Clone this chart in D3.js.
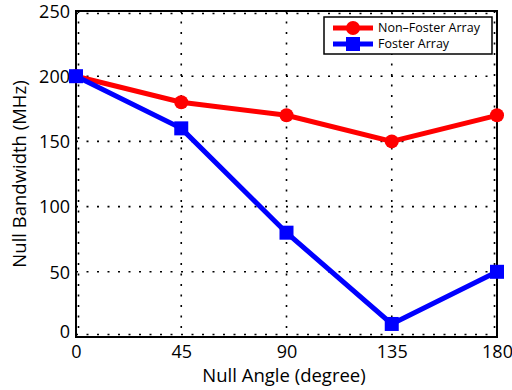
<!DOCTYPE html>
<html>
<head>
<meta charset="utf-8">
<script src="https://cdn.jsdelivr.net/npm/d3@7"></script>
<style>
  body { margin: 0; background: #fff; }
  text { font-family: "Open Sans", "DejaVu Sans", sans-serif; }
</style>
</head>
<body>
<script>
const width = 512;
const height = 390;

// data
const angles = [0, 45, 90, 135, 180];
const nonFoster = [200, 180, 170, 150, 170];
const foster = [200, 160, 80, 10, 50];
const xTicks = [0, 45, 90, 135, 180];
const yTicks = [0, 50, 100, 150, 200, 250];
const seriesNames = ["Non\u2013Foster Array", "Foster Array"];

const margin = { left: 76, right: 15, top: 11, bottom: 53 };

let svg = d3.select("body")
    .append("svg")
    .attr("width", width)
    .attr("height", height);

const x = d3.scaleLinear().domain([0, 180]).range([margin.left, width - margin.right]);
const y = d3.scaleLinear().domain([0, 250]).range([height - margin.bottom, margin.top]);

// dotted grid (edge lines nudged inward so the dots show next to the box)
const dash = "2,8.5";
svg.append("g")
    .selectAll("line")
    .data(xTicks)
    .join("line")
    .attr("x1", d => x(d) + (d === 0 ? 2.5 : d === 180 ? -2.5 : 0))
    .attr("x2", d => x(d) + (d === 0 ? 2.5 : d === 180 ? -2.5 : 0))
    .attr("y1", y(250))
    .attr("y2", y(0))
    .attr("stroke", "#000")
    .attr("stroke-width", 1.6)
    .attr("stroke-dasharray", dash);

svg.append("g")
    .selectAll("line")
    .data(yTicks)
    .join("line")
    .attr("y1", d => y(d) + (d === 0 ? -2.5 : d === 250 ? 2.5 : 0))
    .attr("y2", d => y(d) + (d === 0 ? -2.5 : d === 250 ? 2.5 : 0))
    .attr("x1", x(0))
    .attr("x2", x(180))
    .attr("stroke", "#000")
    .attr("stroke-width", 1.6)
    .attr("stroke-dasharray", dash);

// box
svg.append("rect")
    .attr("x", x(0))
    .attr("y", y(250))
    .attr("width", x(180) - x(0))
    .attr("height", y(0) - y(250))
    .attr("fill", "none")
    .attr("stroke", "#000")
    .attr("stroke-width", 2);

// axes
const xAxis = svg.append("g")
    .attr("transform", `translate(0,${y(0)})`)
    .call(d3.axisBottom(x).tickValues(xTicks).tickSize(0).tickPadding(8));
const yAxis = svg.append("g")
    .attr("transform", `translate(${x(0)},0)`)
    .call(d3.axisLeft(y).tickValues(yTicks).tickSize(0).tickPadding(6));
[xAxis, yAxis].forEach(g => {
    g.select(".domain").remove();
    g.selectAll("text").attr("font-size", 18).attr("fill", "#000");
});
yAxis.selectAll("text").attr("dy", "0.35em");
yAxis.selectAll(".tick").filter(d => d === 0).select("text").attr("dy", "0.05em");

// axis labels
svg.append("text")
    .attr("x", 284)
    .attr("y", 382)
    .attr("text-anchor", "middle")
    .attr("font-size", 18.5)
    .text("Null Angle (degree)");

svg.append("text")
    .attr("transform", `translate(26,${(y(0) + y(250)) / 2}) rotate(-90)`)
    .attr("text-anchor", "middle")
    .attr("font-size", 18.5)
    .text("Null Bandwidth (MHz)");

const line = d3.line().x((d, i) => x(angles[i])).y(d => y(d));

// Non-Foster (red, circles)
svg.append("path")
    .datum(nonFoster)
    .attr("d", line)
    .attr("fill", "none")
    .attr("stroke", "#ff0000")
    .attr("stroke-width", 5);
svg.append("g")
    .selectAll("circle")
    .data(nonFoster)
    .join("circle")
    .attr("cx", (d, i) => x(angles[i]))
    .attr("cy", d => y(d))
    .attr("r", 7)
    .attr("fill", "#ff0000");

// Foster (blue, squares)
svg.append("path")
    .datum(foster)
    .attr("d", line)
    .attr("fill", "none")
    .attr("stroke", "#0000ff")
    .attr("stroke-width", 5);
svg.append("g")
    .selectAll("rect")
    .data(foster)
    .join("rect")
    .attr("x", (d, i) => x(angles[i]) - 7)
    .attr("y", d => y(d) - 7)
    .attr("width", 14)
    .attr("height", 14)
    .attr("fill", "#0000ff");

// legend
const legend = svg.append("g").attr("transform", "translate(324,17)");
legend.append("rect")
    .attr("width", 168)
    .attr("height", 37)
    .attr("fill", "#fff")
    .attr("stroke", "#000")
    .attr("stroke-width", 1.5);
const colors = ["#ff0000", "#0000ff"];
seriesNames.forEach((name, i) => {
    const ly = 11 + i * 16;
    legend.append("line")
        .attr("x1", 9).attr("x2", 49)
        .attr("y1", ly).attr("y2", ly)
        .attr("stroke", colors[i])
        .attr("stroke-width", 5);
    if (i === 0) {
        legend.append("circle").attr("cx", 29).attr("cy", ly).attr("r", 7).attr("fill", colors[i]);
    } else {
        legend.append("rect").attr("x", 22).attr("y", ly - 7).attr("width", 14).attr("height", 14).attr("fill", colors[i]);
    }
    legend.append("text")
        .attr("x", 54)
        .attr("y", ly)
        .attr("dy", "0.35em")
        .attr("font-size", 12.5)
        .text(name);
});
</script>
</body>
</html>
